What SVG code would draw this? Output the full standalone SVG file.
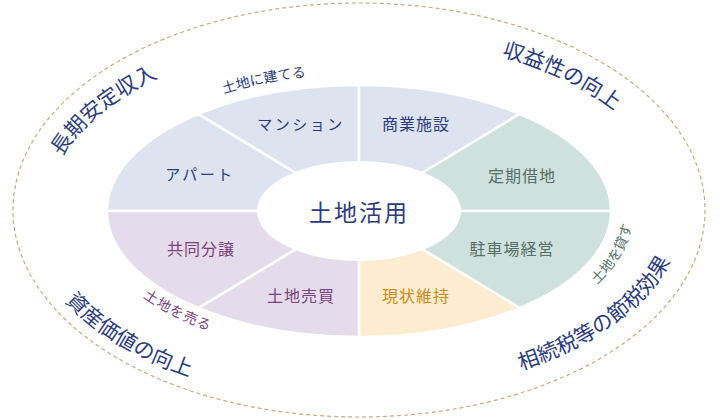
<svg xmlns="http://www.w3.org/2000/svg" width="720" height="420" viewBox="0 0 720 420">
<defs>
<style>
text{font-family:"Noto Sans CJK JP","Noto Sans",sans-serif;}
.seg{stroke:#fff;stroke-width:2.5;stroke-linejoin:round;}
.blue{fill:#dde4ef;}
.green{fill:#cfe1dc;}
.purple{fill:#e4dcea;}
.yellow{fill:#fdecd0;}
.lbl{font-size:16px;text-anchor:middle;dominant-baseline:central;letter-spacing:1px;}
.kana{font-size:15px;letter-spacing:2.5px;}
.tn{fill:#2c3b7c;}
.tg{fill:#566f6b;}
.tp{fill:#7b3f7d;}
.ty{fill:#c98d20;}
.big{font-size:21px;fill:#2c3b7c;}
.small{font-size:14px;}
</style>
<path id="pTL" d="M47.05,207 A312,173 0 0,1 207.7,58.7"/>
<path id="pTR" d="M434.5,42.1 A312,173 0 0,1 658.9,162.3"/>
<path id="pBL" d="M32.1,247 A333,194 0 0,0 250.6,393.4"/>
<path id="pBR" d="M469.8,383.8 A324,185 0 0,0 683,210"/>
<path id="pBuild" d="M183,109.2 A263,137 0 0,1 349.8,74.1"/>
<path id="pLend" d="M552.7,315.7 A274,148 0 0,0 623.7,172.7"/>
<path id="pSell" d="M95.9,243.4 A270,144 0 0,0 280.1,348.7"/>
</defs>
<rect width="720" height="420" fill="#fff"/>
<g id="outer-ring">
<ellipse cx="359" cy="210" rx="346" ry="207" fill="none" stroke="#c8ab7e" stroke-width="1.2" stroke-dasharray="4 3"/>
</g>
<g id="seg-apart">
<path class="seg blue" d="M359,211 L107,211 A252,126 0 0,1 198.3,114 Z"/>
<text class="lbl kana tn" x="200" y="173">アパート</text>
</g>
<g id="seg-mansion">
<path class="seg blue" d="M359,211 L198.3,114 A252,126 0 0,1 359,85 Z"/>
<text class="lbl kana tn" x="301" y="123">マンション</text>
</g>
<g id="seg-shogyo">
<path class="seg blue" d="M359,211 L359,85 A252,126 0 0,1 519.7,114 Z"/>
<text class="lbl tn" x="416" y="123">商業施設</text>
</g>
<g id="seg-teiki">
<path class="seg green" d="M359,211 L519.7,114 A252,126 0 0,1 611,211 Z"/>
<text class="lbl tg" x="522" y="175">定期借地</text>
</g>
<g id="seg-parking">
<path class="seg green" d="M359,211 L611,211 A252,126 0 0,1 519.7,308 Z"/>
<text class="lbl tg" x="512" y="248">駐車場経営</text>
</g>
<g id="seg-genjo">
<path class="seg yellow" d="M359,211 L519.7,308 A252,126 0 0,1 359,337 Z"/>
<text class="lbl ty" x="416" y="295">現状維持</text>
</g>
<g id="seg-baibai">
<path class="seg purple" d="M359,211 L359,337 A252,126 0 0,1 198.3,308 Z"/>
<text class="lbl tp" x="301" y="295">土地売買</text>
</g>
<g id="seg-bunjo">
<path class="seg purple" d="M359,211 L198.3,308 A252,126 0 0,1 107,211 Z"/>
<text class="lbl tp" x="201" y="248">共同分譲</text>
</g>
<g id="center">
<ellipse cx="359" cy="211" rx="102" ry="50" fill="#fff"/>
<text x="359" y="211" text-anchor="middle" dominant-baseline="central" font-size="23" letter-spacing="2" fill="#2c3b7c">土地活用</text>
</g>
<g id="arc-labels">
<text class="small tn"><textPath href="#pBuild" startOffset="50%" text-anchor="middle">土地に建てる</textPath></text>
<text class="small tg"><textPath href="#pLend" startOffset="50%" text-anchor="middle">土地を貸す</textPath></text>
<text class="small tp" letter-spacing="1"><textPath href="#pSell" startOffset="50%" text-anchor="middle">土地を売る</textPath></text>
</g>
<g id="benefits">
<text class="big"><textPath href="#pTL" startOffset="50%" text-anchor="middle">長期安定収入</textPath></text>
<text class="big"><textPath href="#pTR" startOffset="50%" text-anchor="middle">収益性の向上</textPath></text>
<text class="big"><textPath href="#pBL" startOffset="50%" text-anchor="middle">資産価値の向上</textPath></text>
<text class="big" font-size="20"><textPath href="#pBR" startOffset="50%" text-anchor="middle">相続税等の節税効果</textPath></text>
</g>
</svg>
